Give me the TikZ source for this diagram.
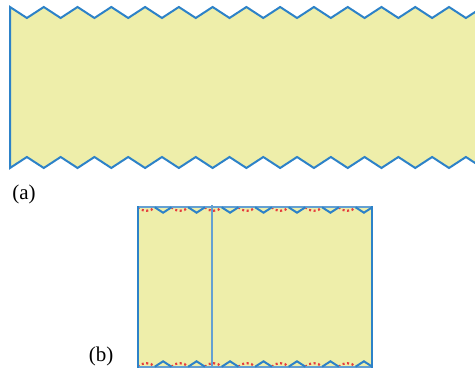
\documentclass[tikz,border=0pt]{standalone}
\usepackage{fontspec}
\setmainfont{Liberation Serif}
\definecolor{stripfill}{RGB}{238,238,170}
\definecolor{zigblue}{RGB}{45,130,200}
\definecolor{lineblue}{RGB}{100,160,210}
\definecolor{dotred}{RGB}{230,60,60}
\begin{document}
\begin{tikzpicture}[x=0.5pt,y=-0.5pt,
  zig/.style={draw=zigblue,line width=1pt,line join=miter},
  flatline/.style={draw=lineblue,line width=1pt},
  redarc/.style={draw=dotred,line width=1.1pt,dash pattern=on 1pt off 1.3pt},
  lbl/.style={font=\fontsize{10.5}{12}\selectfont,inner sep=0pt}]
\useasboundingbox (0,0) rectangle (475,373);
% (a) strip
\begin{scope}
\clip (0,0) rectangle (475,373);
\fill[stripfill] (10,7)
  \foreach \k in {0,...,13} { -- ({10+33.77*(\k+0.5)},18) -- ({10+33.77*(\k+1)},7) }
  -- ({10+33.77*14},168)
  \foreach \k in {13,...,0} { -- ({10+33.77*(\k+0.5)},157) -- ({10+33.77*\k},168) }
  -- cycle;
\draw[zig] ({10+33.77*14},7)
  \foreach \k in {13,...,0} { -- ({10+33.77*(\k+0.5)},18) -- ({10+33.77*\k},7) }
  -- (10,168)
  \foreach \k in {0,...,13} { -- ({10+33.77*(\k+0.5)},157) -- ({10+33.77*(\k+1)},168) };
\end{scope}
\node[lbl] (la) at (24,194) {(a)};
% (b) folded piece
\fill[stripfill] (138,207.3) rectangle (372.3,366.7);
\foreach \k [evaluate=\k as \a using 138+33.47*\k] in {0,...,6} {
  \draw[redarc] (\a,207.3) .. controls ({\a+4},212) and ({\a+12.7},212) .. ({\a+16.7},207.3);
  \draw[redarc] (\a,366.7) .. controls ({\a+4},362) and ({\a+12.7},362) .. ({\a+16.7},366.7);
}
\draw[flatline] (138,207.3) -- (372.3,207.3);
\draw[flatline] (138,366.7) -- (372.3,366.7);
\foreach \k [evaluate=\k as \a using 138+33.47*\k] in {0,...,6} {
  \draw[zig] ({\a+16.74},207.3) -- ({\a+25.1},212.7) -- ({\a+33.47},207.3);
  \draw[zig] ({\a+16.74},366.7) -- ({\a+25.1},361.3) -- ({\a+33.47},366.7);
}
\draw[draw=lineblue,line width=0.9pt] (212.3,205.5) -- (212.3,366.7);
\draw[zig] (138,206.5) -- (138,367.5);
\draw[zig] (372.3,206.5) -- (372.3,367.5);
\node[lbl] (lb) at (101,356) {(b)};
\end{tikzpicture}
\end{document}
